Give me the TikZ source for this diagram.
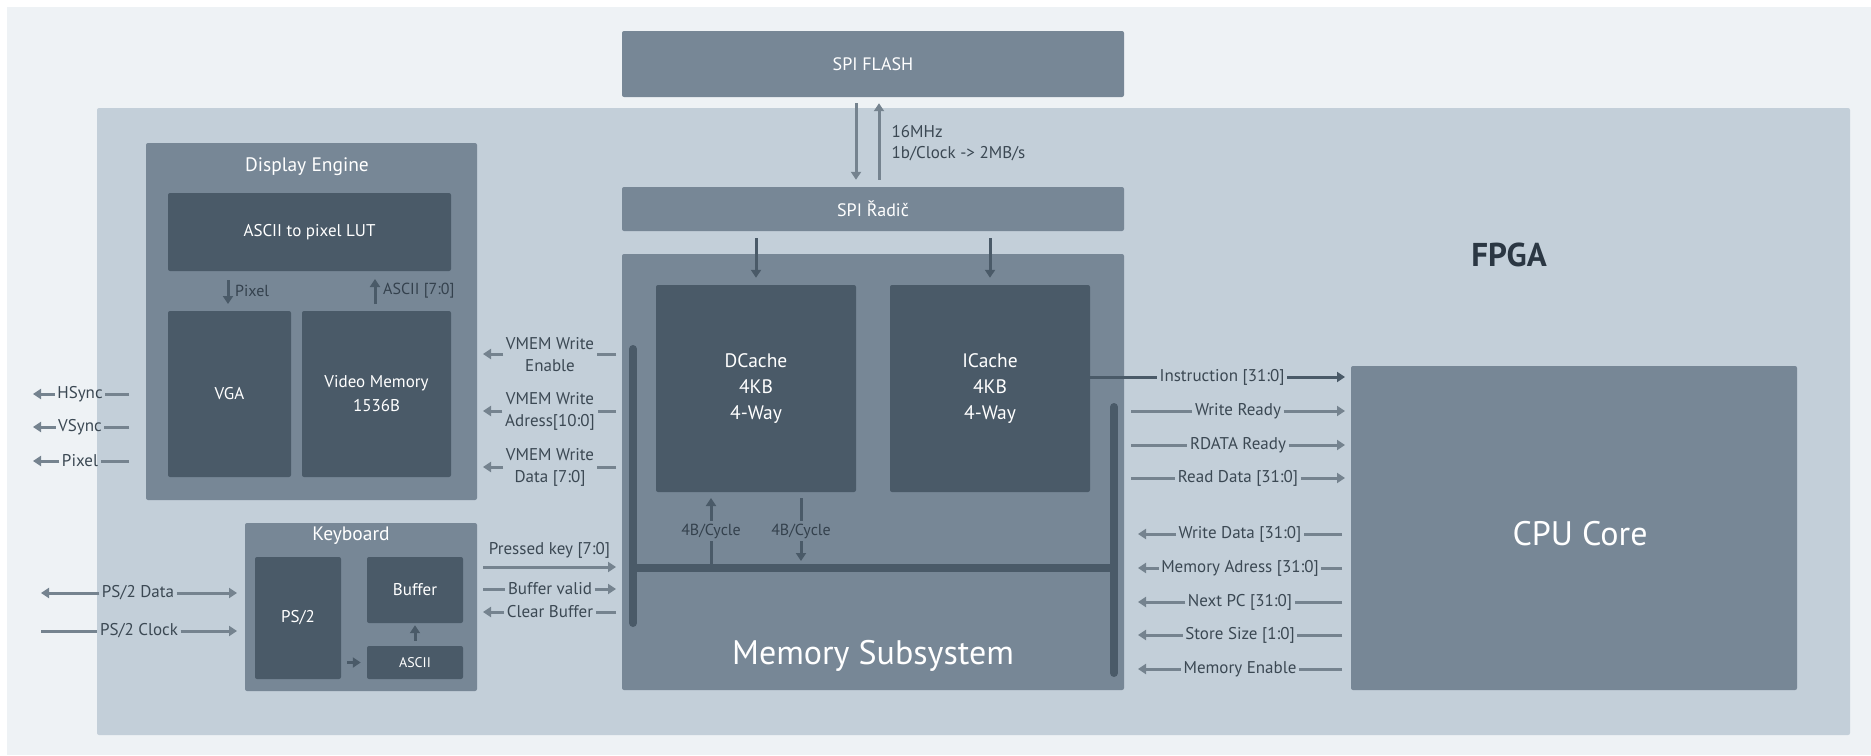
\documentclass[tikz,border=0pt]{standalone}
\usepackage{fontspec}
\setmainfont{PT Sans}
\usetikzlibrary{arrows.meta}
\definecolor{pagebg}{HTML}{EEF2F5}
\definecolor{fpgac}{HTML}{C3CFD9}
\definecolor{midc}{HTML}{778796}
\definecolor{darkc}{HTML}{4A5A68}
\definecolor{arrc}{HTML}{75838F}
\definecolor{txtc}{HTML}{3B4853}
\definecolor{intxt}{HTML}{34414D}
\definecolor{titlec}{HTML}{2B3743}
\begin{document}
\begin{tikzpicture}[x=1pt,y=-1pt,
  >={Triangle[length=8pt,width=10pt]},
  panel/.style={fill=fpgac, rounded corners=2pt, inner sep=0pt},
  midbox/.style={fill=midc, rounded corners=2pt, inner sep=0pt, text=white, align=center},
  darkbox/.style={fill=darkc, rounded corners=2pt, inner sep=0pt, text=white, align=center},
  boxtxt/.style={font=\fontsize{17}{24}\selectfont},
  cachetxt/.style={font=\fontsize{19.5}{26}\selectfont},
  titletxt/.style={text=white, font=\fontsize{19.5}{22}\selectfont},
  bigtxt/.style={text=white, font=\fontsize{34}{38}\selectfont},
  lbl/.style={text=txtc, font=\fontsize{17}{22}\selectfont, inner sep=2.5pt, align=center},
  sig/.style={draw=arrc, line width=3pt},
  dsig/.style={draw=darkc, line width=3pt},
  bar/.style={draw=darkc, line width=8pt}
]
\useasboundingbox (0,0) rectangle (1871,755);
\fill[white] (0,0) rectangle (1871,755);
\fill[pagebg] (7,7) rectangle (1871,755);

% FPGA panel
\node[panel, minimum width=1753pt, minimum height=627pt] (fpga) at (973.5,421.5) {};
\node[text=titlec, font=\bfseries\fontsize{33}{36}\selectfont] (fpgat) at (1509,255) {FPGA};

% SPI
\node[midbox, font=\fontsize{18}{22}\selectfont, minimum width=502pt, minimum height=66pt] (flash) at (873,64) {SPI FLASH};
\node[midbox, font=\fontsize{18}{22}\selectfont, minimum width=502pt, minimum height=44pt] (radic) at (873,209) {SPI Řadič};
\draw[sig,->,shorten <=6pt,shorten >=7pt] ([xshift=-17pt]flash.south) -- ([xshift=-17pt]radic.north);
\draw[sig,->,shorten <=7pt,shorten >=6pt] ([xshift=6pt]radic.north) -- ([xshift=6pt]flash.south);
\node[lbl, anchor=west, align=left, font=\fontsize{17}{21}\selectfont] (spilbl) at (889,143) {16MHz\\1b/Clock -> 2MB/s};

% Memory subsystem
\node[midbox, minimum width=502pt, minimum height=436pt] (mem) at (873,472) {};
\node[bigtxt] (memt) at (873,656) {Memory Subsystem};
\node[darkbox, cachetxt, minimum width=200pt, minimum height=207pt] (dcache) at (756,388.5) {DCache\\4KB\\4-Way};
\node[darkbox, cachetxt, minimum width=200pt, minimum height=207pt] (icache) at (990,388.5) {ICache\\4KB\\4-Way};
\draw[dsig,->,shorten <=7pt,shorten >=7pt] (radic.south -| dcache.north) -- (dcache.north);
\draw[dsig,->,shorten <=7pt,shorten >=7pt] (radic.south -| icache.north) -- (icache.north);

% buses
\coordinate (lb1) at (633,349);
\coordinate (lb2) at (633,623);
\coordinate (rb1) at (1114,407);
\coordinate (rb2) at (1114,673);
\coordinate (bus1) at (633,568);
\coordinate (bus2) at (1114,568);
\draw[bar] (bus1) -- (bus2);
\draw[bar, line cap=round] (lb1) -- (lb2);
\draw[bar, line cap=round] (rb1) -- (rb2);

% 4B/Cycle
\node[lbl, text=intxt, font=\fontsize{16}{20}\selectfont] (cyc1) at (711,531) {4B/Cycle};
\node[lbl, text=intxt, font=\fontsize{16}{20}\selectfont] (cyc2) at (801,531) {4B/Cycle};
\coordinate (cy1b) at (711,564);
\coordinate (cy1t) at (711,498);
\coordinate (cy2b) at (801,561);
\coordinate (cy2t) at (801,498);
\draw[dsig] (cy1b) -- (cyc1.south);
\draw[dsig,->] (cyc1.north) -- (cy1t);
\draw[dsig] (cy2t) -- (cyc2.north);
\draw[dsig,->] (cyc2.south) -- (cy2b);

% Display engine
\node[midbox, minimum width=331pt, minimum height=357pt] (disp) at (311.5,321.5) {};
\node[titletxt] (dispt) at (307,167) {Display Engine};
\node[darkbox, boxtxt, minimum width=283pt, minimum height=78pt] (lut) at (309.5,232) {ASCII to pixel LUT};
\node[darkbox, boxtxt, minimum width=123pt, minimum height=166pt] (vga) at (229.5,394) {VGA};
\node[darkbox, boxtxt, minimum width=149pt, minimum height=166pt] (vmem) at (376.5,394) {Video Memory\\1536B};
\coordinate (px1) at (228,280);
\coordinate (px2) at (228,304);
\coordinate (as1) at (375,304);
\coordinate (as2) at (375,279);
\draw[dsig,->] (px1) -- (px2);
\draw[dsig,->] (as1) -- (as2);
\node[lbl, text=intxt, font=\fontsize{16}{20}\selectfont, anchor=west, inner sep=0pt] (pxl) at (235,291) {Pixel};
\node[lbl, text=intxt, font=\fontsize{16}{20}\selectfont, anchor=west, inner sep=0pt] (asl) at (383,291) {ASCII [7:0]};

% VGA outputs
\node[lbl] (hs) at (80,394) {HSync};
\node[lbl] (vs) at (80,427) {VSync};
\node[lbl] (pxo) at (80,461) {Pixel};
\coordinate (hs0) at (33,394) ; \coordinate (hs1) at (129,394);
\coordinate (vs0) at (33,427) ; \coordinate (vs1) at (129,427);
\coordinate (po0) at (33,461) ; \coordinate (po1) at (129,461);
\draw[sig] (hs1) -- (hs.east); \draw[sig,->] (hs.west) -- (hs0);
\draw[sig] (vs1) -- (vs.east); \draw[sig,->] (vs.west) -- (vs0);
\draw[sig] (po1) -- (pxo.east); \draw[sig,->] (pxo.west) -- (po0);

% VMEM signals
\node[lbl] (vwe) at (550,355) {VMEM Write\\Enable};
\node[lbl] (vwa) at (550,411) {VMEM Write\\Adress[10:0]};
\node[lbl] (vwd) at (550,467) {VMEM Write\\Data [7:0]};
\coordinate (vwe0) at (483,354); \coordinate (vwe1) at (616,354);
\coordinate (vwa0) at (483,411); \coordinate (vwa1) at (616,411);
\coordinate (vwd0) at (483,467); \coordinate (vwd1) at (616,467);
\draw[sig] (vwe1) -- (vwe1 -| vwe.east); \draw[sig,->] (vwe0 -| vwe.west) -- (vwe0);
\draw[sig] (vwa1) -- (vwa1 -| vwa.east); \draw[sig,->] (vwa0 -| vwa.west) -- (vwa0);
\draw[sig] (vwd1) -- (vwd1 -| vwd.east); \draw[sig,->] (vwd0 -| vwd.west) -- (vwd0);

% Keyboard
\node[midbox, minimum width=232pt, minimum height=168pt] (kbd) at (361,607) {};
\node[titletxt] (kbdt) at (351,536) {Keyboard};
\node[darkbox, boxtxt, minimum width=86pt, minimum height=122pt] (ps2) at (298,618) {PS/2};
\node[darkbox, boxtxt, minimum width=96pt, minimum height=66pt] (buf) at (415,590) {Buffer};
\node[darkbox, font=\fontsize{14}{16}\selectfont, minimum width=96pt, minimum height=33pt] (asc) at (415,662.5) {ASCII};
\draw[dsig,->,shorten <=5pt,shorten >=2pt] (asc.north) -- (buf.south);
\draw[dsig,->,shorten <=6pt,shorten >=6pt] (ps2.east |- asc.west) -- (asc.west);

% PS/2 lines
\node[lbl] (psd) at (138,593) {PS/2 Data};
\node[lbl] (psc) at (139,631) {PS/2 Clock};
\coordinate (psd0) at (41,593); \coordinate (psd1) at (237,593);
\coordinate (psc0) at (41,631); \coordinate (psc1) at (237,631);
\draw[sig,->] (psd.west) -- (psd0); \draw[sig,->] (psd.east) -- (psd1);
\draw[sig] (psc0) -- (psc.west); \draw[sig,->] (psc.east) -- (psc1);

% Keyboard <-> memory
\coordinate (pk0) at (483,567); \coordinate (pk1) at (616,567);
\draw[sig,->] (pk0) -- (pk1) node[lbl, midway, above=5pt] (pkl) {Pressed key [7:0]};
\node[lbl] (bv) at (550,589) {Buffer valid};
\node[lbl] (cb) at (550,612) {Clear Buffer};
\coordinate (bv0) at (483,589); \coordinate (bv1) at (616,589);
\coordinate (cb0) at (483,612); \coordinate (cb1) at (616,612);
\draw[sig] (bv0) -- (bv.west); \draw[sig,->] (bv.east) -- (bv1);
\draw[sig,->] (cb.west) -- (cb0); \draw[sig] (cb1) -- (cb.east);

% CPU core
\node[midbox, minimum width=446pt, minimum height=324pt] (cpu) at (1574,528) {};
\node[bigtxt] (cput) at (1580,534) {CPU Core};

% CPU signals
\coordinate (in0) at (1090,377); \coordinate (in1) at (1345,377);
\node[lbl] (ins) at (1222,377) {Instruction [31:0]};
\draw[dsig] (in0) -- (ins.west); \draw[dsig,->] (ins.east) -- (in1);

\node[lbl] (wrr) at (1238,411) {Write Ready};
\node[lbl] (rdr) at (1238,445) {RDATA Ready};
\node[lbl] (rdd) at (1238,478) {Read Data [31:0]};
\coordinate (wrr0) at (1131,411); \coordinate (wrr1) at (1345,411);
\coordinate (rdr0) at (1131,445); \coordinate (rdr1) at (1345,445);
\coordinate (rdd0) at (1131,478); \coordinate (rdd1) at (1345,478);
\draw[sig] (wrr0) -- (wrr.west); \draw[sig,->] (wrr.east) -- (wrr1);
\draw[sig] (rdr0) -- (rdr.west); \draw[sig,->] (rdr.east) -- (rdr1);
\draw[sig] (rdd0) -- (rdd.west); \draw[sig,->] (rdd.east) -- (rdd1);

\node[lbl] (wrd) at (1240,534) {Write Data [31:0]};
\node[lbl] (mad) at (1240,568) {Memory Adress [31:0]};
\node[lbl] (npc) at (1240,602) {Next PC [31:0]};
\node[lbl] (sts) at (1240,635) {Store Size [1:0]};
\node[lbl] (men) at (1240,669) {Memory Enable};
\coordinate (wrd0) at (1138,534); \coordinate (wrd1) at (1342,534);
\coordinate (mad0) at (1138,568); \coordinate (mad1) at (1342,568);
\coordinate (npc0) at (1138,602); \coordinate (npc1) at (1342,602);
\coordinate (sts0) at (1138,635); \coordinate (sts1) at (1342,635);
\coordinate (men0) at (1138,669); \coordinate (men1) at (1342,669);
\draw[sig,->] (wrd.west) -- (wrd0); \draw[sig] (wrd1) -- (wrd.east);
\draw[sig,->] (mad.west) -- (mad0); \draw[sig] (mad1) -- (mad.east);
\draw[sig,->] (npc.west) -- (npc0); \draw[sig] (npc1) -- (npc.east);
\draw[sig,->] (sts.west) -- (sts0); \draw[sig] (sts1) -- (sts.east);
\draw[sig,->] (men.west) -- (men0); \draw[sig] (men1) -- (men.east);
\end{tikzpicture}
\end{document}
